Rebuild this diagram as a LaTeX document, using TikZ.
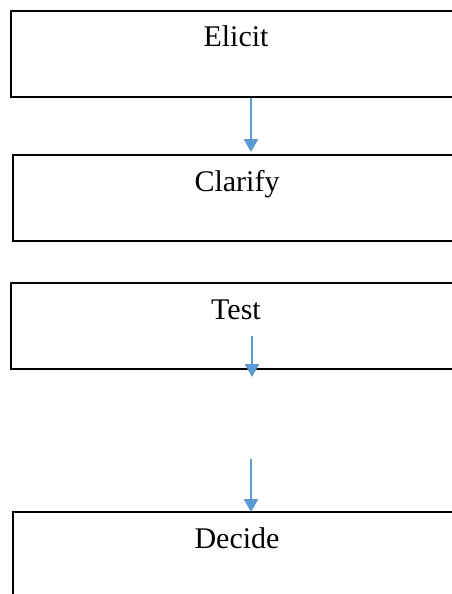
\documentclass[tikz,border=0pt]{standalone}
\usepackage{fontspec}
\setmainfont{Liberation Serif}
\usetikzlibrary{arrows.meta}
\definecolor{arrblue}{RGB}{91,155,213}
\tikzset{
  box/.style={draw=black, line width=1.8pt, rectangle, inner sep=0pt, anchor=north west},
  lbl/.style={anchor=base, inner sep=0pt, font=\fontsize{30}{36}\selectfont},
  arr/.style={draw=arrblue, line width=2.6pt, -{Triangle[width=14pt,length=13pt]}, shorten >=-1pt}
}
\begin{document}
\begin{tikzpicture}[x=1pt,y=-1pt]
\clip (0,0) rectangle (452,594);
\fill[white] (0,0) rectangle (452,594);
\node[box, minimum width=470pt, minimum height=86pt] (b1) at (10,10) {};
\node[box, minimum width=470pt, minimum height=86pt] (b2) at (12,154) {};
\node[box, minimum width=470pt, minimum height=86pt] (b3) at (10,282) {};
\node[box, minimum width=470pt, minimum height=120pt] (b4) at (12,511) {};
\node[lbl] (t1) at (236,47) {Elicit};
\node[lbl] (t2) at (237,191) {Clarify};
\node[lbl] (t3) at (236,319) {Test};
\node[lbl] (t4) at (237,548) {Decide};
\coordinate (a1s) at (251,96);
\coordinate (a1e) at (251,151);
\coordinate (a2s) at (252,336);
\coordinate (a2e) at (252,376);
\coordinate (a3s) at (251,459);
\coordinate (a3e) at (251,511);
\draw[arr] (a1s |- b1.south) -- (a1e);
\draw[arr] (a2s) -- (a2e);
\draw[arr] (a3s) -- (a3e |- b4.north);
\end{tikzpicture}
\end{document}
